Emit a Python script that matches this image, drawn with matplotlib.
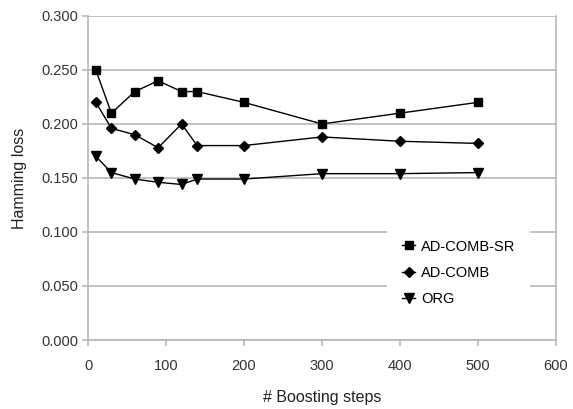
import matplotlib
matplotlib.use("Agg")
import matplotlib.pyplot as plt

steps = [10, 30, 60, 90, 120, 140, 200, 300, 400, 500]
ad_comb_sr = [0.250, 0.210, 0.230, 0.240, 0.230, 0.230, 0.220, 0.200, 0.210, 0.220]
ad_comb = [0.220, 0.196, 0.190, 0.178, 0.200, 0.180, 0.180, 0.188, 0.184, 0.182]
org = [0.170, 0.155, 0.149, 0.146, 0.144, 0.149, 0.149, 0.154, 0.154, 0.155]

x_ticks = [0, 100, 200, 300, 400, 500, 600]
y_ticks = [0.0, 0.05, 0.10, 0.15, 0.20, 0.25, 0.30]

plt.rcParams['font.family'] = ['Liberation Sans', 'DejaVu Sans']

fig = plt.figure(figsize=(5.73, 4.09), dpi=100)
ax = fig.add_axes([0.1536, 0.1687, 0.8164, 0.7923])

grey = "#b8b8b8"
ax.plot(steps, ad_comb_sr, color="black", lw=1, marker="s", ms=5.5, label="AD-COMB-SR")
ax.plot(steps, ad_comb, color="black", lw=1, marker="D", ms=5.2, label="AD-COMB")
ax.plot(steps, org, color="black", lw=1, marker="v", ms=6.5, label="ORG")

ax.set_xlim(0, 600)
ax.set_ylim(0, 0.3)
ax.set_xticks(x_ticks)
ax.set_yticks(y_ticks)
ax.set_yticklabels([f"{v:.3f}" for v in y_ticks])
ax.grid(axis="y", color=grey, lw=1.2)
ax.set_axisbelow(True)

ax.spines["top"].set_visible(False)
for side in ["left", "right", "bottom"]:
    ax.spines[side].set_color(grey)
    ax.spines[side].set_linewidth(1.2)

ax.tick_params(axis="both", colors=grey, labelcolor="#333333", labelsize=10.5, length=4, width=1.2)
ax.tick_params(axis="x", pad=10)
ax.tick_params(axis="y", pad=3)

ax.set_xlabel("# Boosting steps", fontsize=11.5, color="#222222", labelpad=12)
ax.set_ylabel("Hamming loss", fontsize=11.5, color="#222222", labelpad=10)

# legend box sits over the 0.100 and 0.050 grid lines, like the original
leg = ax.legend(loc="upper left", bbox_to_anchor=(0.64, 0.355), borderaxespad=0,
                frameon=True, fontsize=10.5, handlelength=0.9, handletextpad=0.4,
                labelspacing=0.85, borderpad=1.0)
leg.get_frame().set_edgecolor("none")
leg.get_frame().set_facecolor("white")
leg.get_frame().set_alpha(1.0)
leg.get_frame().set_boxstyle("square", pad=0)

fig.savefig("out.png", dpi=100)
